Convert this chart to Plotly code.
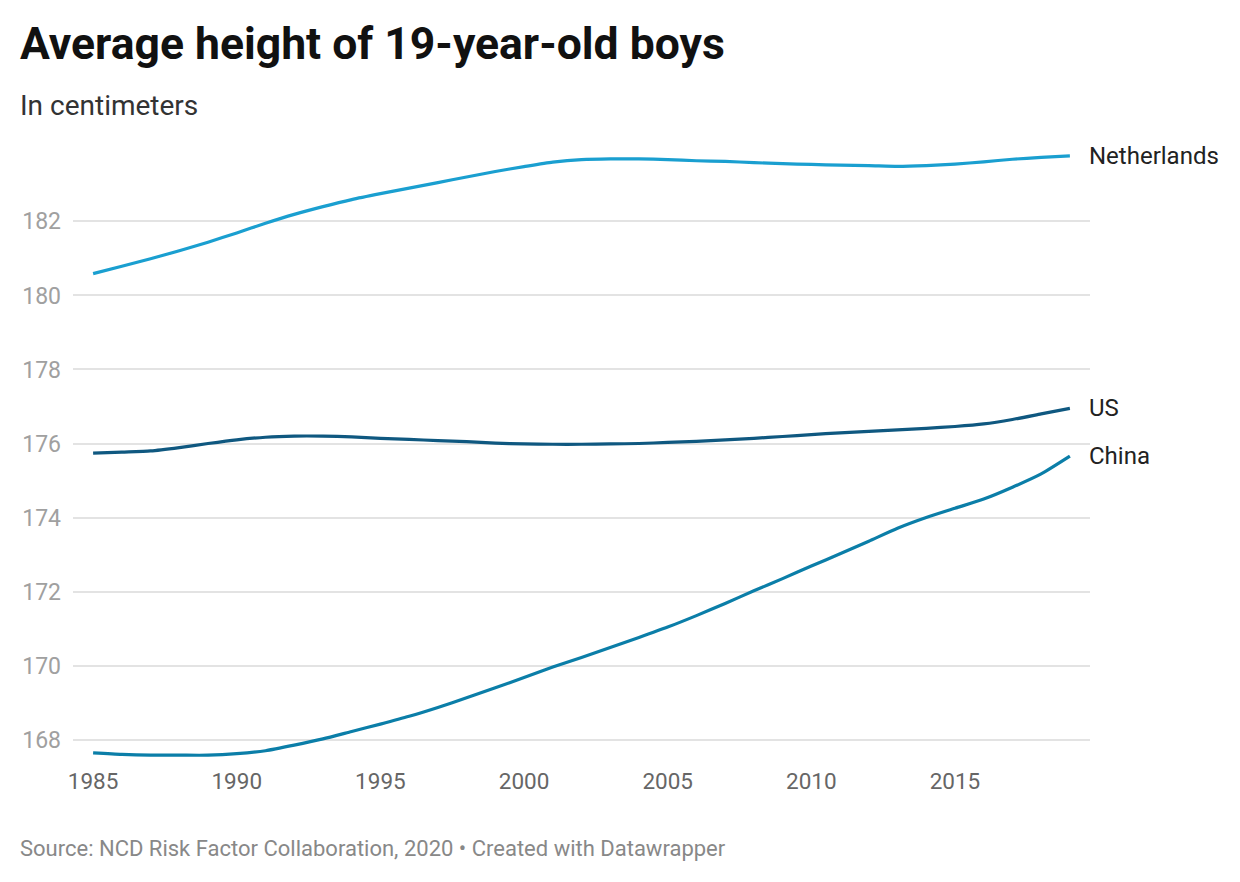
import plotly.graph_objects as go

years = list(range(1985, 2020))

netherlands = [180.59, 180.79, 180.99, 181.21, 181.44, 181.69, 181.95, 182.19, 182.40, 182.59,
               182.75, 182.90, 183.05, 183.20, 183.35, 183.48, 183.60, 183.67, 183.69, 183.69,
               183.67, 183.64, 183.62, 183.59, 183.56, 183.54, 183.52, 183.51, 183.49, 183.51,
               183.55, 183.61, 183.68, 183.73, 183.77]

us = [175.74, 175.77, 175.80, 175.89, 176.00, 176.10, 176.17, 176.20, 176.20, 176.18,
      176.14, 176.11, 176.08, 176.05, 176.01, 175.99, 175.98, 175.98, 175.99, 176.00,
      176.03, 176.06, 176.10, 176.14, 176.19, 176.24, 176.29, 176.33, 176.37, 176.41,
      176.46, 176.53, 176.65, 176.80, 176.95]

china = [167.64, 167.60, 167.58, 167.58, 167.58, 167.62, 167.70, 167.85, 168.02, 168.22,
         168.42, 168.63, 168.87, 169.13, 169.40, 169.68, 169.96, 170.22, 170.49, 170.76,
         171.04, 171.35, 171.68, 172.02, 172.35, 172.69, 173.02, 173.36, 173.71, 174.00,
         174.25, 174.50, 174.82, 175.18, 175.66]

series = [("Netherlands", netherlands, "#1a9fd0"),
          ("US", us, "#0f5880"),
          ("China", china, "#0b7ea8")]

y_ticks = [168, 170, 172, 174, 176, 178, 180, 182]
x_ticks = [1985, 1990, 1995, 2000, 2005, 2010, 2015]

L, R, T, B = 65, 158, 132, 130
W, H = 1240, 882
PW, PH = W - L - R, H - T - B

fig = go.Figure()
for name, vals, color in series:
    fig.add_trace(go.Scatter(x=years, y=vals, mode="lines", name=name,
                             line=dict(color=color, width=3.2, shape="spline", smoothing=0.6),
                             hoverinfo="skip"))
    fig.add_annotation(x=years[-1], y=vals[-1], text=name, showarrow=False,
                       xanchor="left", yanchor="middle", xshift=17,
                       font=dict(family="Roboto", size=24, color="#222222"))

fig.update_layout(
    width=W, height=H,
    paper_bgcolor="white", plot_bgcolor="white",
    showlegend=False,
    margin=dict(l=L, r=R, t=T, b=B),
    font=dict(family="Roboto"),
)
fig.update_xaxes(range=[1984.3, 2019.7], tickvals=x_ticks, showgrid=False, zeroline=False,
                 showline=False, ticks="", tickfont=dict(size=22.5, color="#666666"),
                 ticklabelstandoff=5)
fig.update_yaxes(range=[167.45, 184.2], tickvals=y_ticks, showgrid=True, gridcolor="#e3e3e3",
                 gridwidth=1.5, zeroline=False, showline=False, ticks="",
                 tickfont=dict(size=23, color="#a0a0a0"), ticklabelstandoff=11)

def px_x(px):
    return (px - L) / PW

def px_y(py):
    return 1 - (py - T) / PH

fig.add_annotation(xref="paper", yref="paper", x=px_x(10), y=px_y(36),
                   text="<b>Average height of 19-year-old boys</b>", showarrow=False,
                   xanchor="left", yanchor="middle",
                   font=dict(family="Roboto", size=44.5, color="#111111"))
fig.add_annotation(xref="paper", yref="paper", x=px_x(10), y=px_y(98),
                   text="In centimeters", showarrow=False, xanchor="left", yanchor="middle",
                   font=dict(family="Roboto", size=28, color="#333333"))
fig.add_annotation(xref="paper", yref="paper", x=px_x(10), y=px_y(840),
                   text="Source: NCD Risk Factor Collaboration, 2020 • Created with Datawrapper",
                   showarrow=False, xanchor="left", yanchor="middle",
                   font=dict(family="Roboto", size=22, color="#888888"))

fig.write_html("out.html")
